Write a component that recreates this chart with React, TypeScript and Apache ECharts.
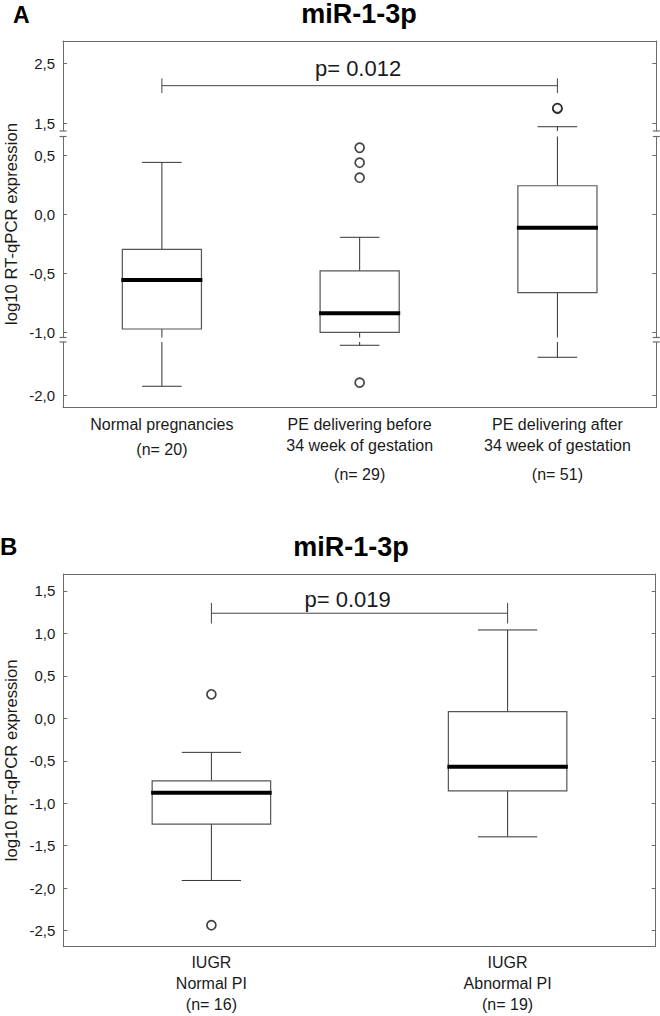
import { useEffect, useRef } from 'react';
import * as echarts from 'echarts';

// ---------- Panel A data ----------
const categoriesA = [
  'Normal pregnancies',
  'PE delivering before\n34 week of gestation',
  'PE delivering after\n34 week of gestation',
];
const countsA = [20, 29, 51];
// box statistics per category
const minA = [-1.843, -1.16, -1.36];
const q1A = [-0.972, -1.0, -0.664];
const medianA = [-0.557, -0.839, -0.114];
const q3A = [-0.297, -0.48, 0.242];
const maxA = [0.44, -0.195, 1.443];
const outlierCatA = [1, 1, 1, 1, 2, 2];
const outlierValA = [0.564, 0.437, 0.31, -1.783, 1.743, 1.752];
const ticksA = [2.5, 1.5, 0.5, 0, -0.5, -1, -2];
const pTextA = 'p= 0.012';
const pFromA = 0;
const pToA = 2;
const pLevelA = 2.127;
const pTextLevelA = 2.42;

// broken axis of panel A: value knots -> linear display knots
const scaleValuesA = [-2.2, -1.105, -1.044, 0.659, 1.372, 2.9];
const scaleDisplayA = [-1.639, -1.082, -1.044, 0.659, 0.706, 1.483];
const breaksA = [
  [-1.105, -1.044],
  [0.659, 1.372],
];
const displayMinA = -1.6356;
const displayMaxA = 1.4686;

// ---------- Panel B data ----------
const categoriesB = ['IUGR\nNormal PI', 'IUGR\nAbnormal PI'];
const countsB = [16, 19];
const minB = [-1.91, -1.396];
const q1B = [-1.246, -0.854];
const medianB = [-0.877, -0.571];
const q3B = [-0.736, 0.078];
const maxB = [-0.401, 1.041];
const outlierCatB = [0, 0];
const outlierValB = [0.283, -2.437];
const ticksB = [1.5, 1, 0.5, 0, -0.5, -1, -1.5, -2, -2.5];
const pTextB = 'p= 0.019';
const pFromB = 0;
const pToB = 1;
const pLevelB = 1.238;
const pTextLevelB = 1.4;
const yMinB = -2.69;
const yMaxB = 1.7;

// ---------- styles ----------
const FONT = '"Liberation Sans", Arial, Helvetica, sans-serif';
const FRAME = '#6b6b6b';
const TEXT = '#1a1a1a';

function piecewise(v: number, xs: number[], ys: number[]): number {
  const n = xs.length - 1;
  if (v <= xs[0]) return ys[0] + ((v - xs[0]) * (ys[1] - ys[0])) / (xs[1] - xs[0]);
  for (let i = 1; i <= n; i++) {
    if (v <= xs[i]) return ys[i - 1] + ((v - xs[i - 1]) * (ys[i] - ys[i - 1])) / (xs[i] - xs[i - 1]);
  }
  return ys[n] + ((v - xs[n]) * (ys[n] - ys[n - 1])) / (xs[n] - xs[n - 1]);
}
const toDispA = (v: number) => piecewise(v, scaleValuesA, scaleDisplayA);
const fromDispA = (d: number) => piecewise(d, scaleDisplayA, scaleValuesA);
const ident = (v: number) => v;
const fmtTick = (v: number) => (Math.round(v * 10) / 10).toFixed(1).replace('.', ',');

function boxRender(tf: (v: number) => number) {
  return (params: any, api: any) => {
    const idx = api.value(0);
    const yMin = api.coord([idx, tf(api.value(1))])[1];
    const yQ1 = api.coord([idx, tf(api.value(2))])[1];
    const yMed = api.coord([idx, tf(api.value(3))])[1];
    const yQ3 = api.coord([idx, tf(api.value(4))])[1];
    const yMax = api.coord([idx, tf(api.value(5))])[1];
    const x = api.coord([idx, tf(api.value(3))])[0];
    const band = api.size([1, 0])[0];
    const bw = band * 0.4;
    const cw = bw / 2;
    const wStyle = { stroke: '#333', lineWidth: 1, fill: null };
    return {
      type: 'group',
      children: [
        { type: 'line', shape: { x1: x, y1: yQ3, x2: x, y2: yMax }, style: wStyle },
        { type: 'line', shape: { x1: x, y1: yQ1, x2: x, y2: yMin }, style: wStyle },
        { type: 'line', shape: { x1: x - cw / 2, y1: yMax, x2: x + cw / 2, y2: yMax }, style: wStyle },
        { type: 'line', shape: { x1: x - cw / 2, y1: yMin, x2: x + cw / 2, y2: yMin }, style: wStyle },
        {
          type: 'rect',
          shape: { x: x - bw / 2, y: yQ3, width: bw, height: yQ1 - yQ3 },
          style: { fill: '#fff', stroke: '#555', lineWidth: 1.2 },
        },
        {
          type: 'line',
          shape: { x1: x - bw / 2 - 1, y1: yMed, x2: x + bw / 2 + 1, y2: yMed },
          style: { stroke: '#000', lineWidth: 4 },
        },
      ],
    };
  };
}

function bracketRender(tf: (v: number) => number, tickHalf: number, text: string, textFrac: number) {
  return (params: any, api: any) => {
    const p1 = api.coord([api.value(0), tf(api.value(2))]);
    const p2 = api.coord([api.value(1), tf(api.value(2))]);
    const ty = api.coord([api.value(0), tf(api.value(3))])[1];
    const tx = p1[0] + (p2[0] - p1[0]) * textFrac;
    const st = { stroke: '#444', lineWidth: 1, fill: null };
    return {
      type: 'group',
      children: [
        { type: 'line', shape: { x1: p1[0], y1: p1[1], x2: p2[0], y2: p2[1] }, style: st },
        { type: 'line', shape: { x1: p1[0], y1: p1[1] - tickHalf, x2: p1[0], y2: p1[1] + tickHalf }, style: st },
        { type: 'line', shape: { x1: p2[0], y1: p2[1] - tickHalf, x2: p2[0], y2: p2[1] + tickHalf }, style: st },
        {
          type: 'text',
          x: tx,
          y: ty,
          style: { text, fontSize: 22, fontFamily: FONT, fill: TEXT, align: 'center', verticalAlign: 'middle' },
        },
      ],
    };
  };
}

function breakRender(tf: (v: number) => number) {
  return (params: any, api: any) => {
    const cs = params.coordSys;
    const yLo = api.coord([0, tf(api.value(0))])[1];
    const yHi = api.coord([0, tf(api.value(1))])[1];
    const st = { stroke: FRAME, lineWidth: 1.2, fill: null };
    const xs = [cs.x, cs.x + cs.width];
    const children: any[] = [
      {
        type: 'rect',
        shape: { x: cs.x - 2, y: yHi, width: cs.width + 4, height: yLo - yHi },
        style: { fill: '#fff', stroke: null },
      },
    ];
    xs.forEach((x) => {
      [yHi, yLo].forEach((y) => {
        children.push({ type: 'line', shape: { x1: x - 3.5, y1: y, x2: x + 3.5, y2: y }, style: st });
      });
    });
    return { type: 'group', children };
  };
}

function catLabel(counts: number[], extraStyle: (lines: number) => string) {
  return (value: string, i: number) => {
    const lines = value.split('\n');
    return lines.map((l) => `{a|${l}}`).join('\n') + `\n{${extraStyle(lines.length)}|(n= ${counts[i]})}`;
  };
}

const richBase = { fontSize: 16, fontFamily: FONT, color: TEXT };

function xAxes(gridIndex: number, data: string[], counts: number[], margin: number, rich: any, styleFor: (n: number) => string) {
  return [
    {
      type: 'category',
      gridIndex,
      data,
      position: 'bottom',
      axisLine: { onZero: false, lineStyle: { color: FRAME, width: 1 } },
      axisTick: { inside: true, alignWithLabel: true, length: 4, lineStyle: { color: FRAME } },
      axisLabel: { interval: 0, margin, formatter: catLabel(counts, styleFor), rich },
      splitLine: { show: false },
    },
    {
      type: 'category',
      gridIndex,
      data,
      position: 'top',
      axisLine: { onZero: false, lineStyle: { color: FRAME, width: 1 } },
      axisTick: { inside: true, alignWithLabel: true, length: 4, lineStyle: { color: FRAME } },
      axisLabel: { show: false },
      splitLine: { show: false },
    },
  ];
}

function yAxes(gridIndex: number, min: number, max: number, tickPos: number[], fmt: (v: number) => string) {
  const common = {
    type: 'value',
    gridIndex,
    min,
    max,
    axisLine: { show: true, onZero: false, lineStyle: { color: FRAME, width: 1 } },
    axisTick: { show: true, inside: true, length: 4, customValues: tickPos, lineStyle: { color: FRAME } },
    splitLine: { show: false },
  };
  return [
    {
      ...common,
      position: 'left',
      axisLabel: { customValues: tickPos, formatter: fmt, fontSize: 15, fontFamily: FONT, color: TEXT, margin: 8 },
    },
    { ...common, position: 'right', axisLabel: { show: false } },
  ];
}

function buildOption() {
  const tickPosA = ticksA.map(toDispA);
  const boxDataA = categoriesA.map((_, i) => [i, minA[i], q1A[i], medianA[i], q3A[i], maxA[i]]);
  const boxDataB = categoriesB.map((_, i) => [i, minB[i], q1B[i], medianB[i], q3B[i], maxB[i]]);
  const outA = outlierCatA.map((c, i) => [c, toDispA(outlierValA[i])]);
  const outB = outlierCatB.map((c, i) => [c, outlierValB[i]]);
  const scatterStyle = { color: '#fff', borderColor: '#111', borderWidth: 1.7 };

  const richA = {
    a: { ...richBase, lineHeight: 21 },
    m: { ...richBase, lineHeight: 29 },
    n: { ...richBase, lineHeight: 36 },
  };
  const richB = {
    a: { ...richBase, lineHeight: 21 },
    n: { ...richBase, lineHeight: 21 },
  };

  return {
    animation: false,
    backgroundColor: '#fff',
    grid: [
      { left: 63, top: 41, width: 593.3, height: 366.3 },
      { left: 63.3, top: 574, width: 592.4, height: 372.7 },
    ],
    xAxis: [
      ...xAxes(0, categoriesA, countsA, 7, richA, (n) => (n > 1 ? 'n' : 'm')),
      ...xAxes(1, categoriesB, countsB, 5, richB, () => 'n'),
    ],
    yAxis: [
      ...yAxes(0, displayMinA, displayMaxA, tickPosA, (v: number) => fmtTick(fromDispA(v))),
      ...yAxes(1, yMinB, yMaxB, ticksB, (v: number) => fmtTick(v)),
    ],
    graphic: [
      {
        type: 'text',
        x: 13,
        y: 15,
        style: { text: 'A', fontSize: 23, fontWeight: 'bold', fontFamily: FONT, fill: '#000', align: 'left', verticalAlign: 'middle' },
      },
      {
        type: 'text',
        x: 359,
        y: 13.5,
        style: { text: 'miR-1-3p', fontSize: 27, fontWeight: 'bold', fontFamily: FONT, fill: '#000', align: 'center', verticalAlign: 'middle' },
      },
      {
        type: 'text',
        x: 0,
        y: 546.5,
        style: { text: 'B', fontSize: 24, fontWeight: 'bold', fontFamily: FONT, fill: '#000', align: 'left', verticalAlign: 'middle' },
      },
      {
        type: 'text',
        x: 351,
        y: 546.5,
        style: { text: 'miR-1-3p', fontSize: 27, fontWeight: 'bold', fontFamily: FONT, fill: '#000', align: 'center', verticalAlign: 'middle' },
      },
      {
        type: 'text',
        x: 11.6,
        y: 224,
        rotation: Math.PI / 2,
        style: { text: 'log10 RT-qPCR expression', fontSize: 16.7, fontFamily: FONT, fill: TEXT, align: 'center', verticalAlign: 'middle' },
      },
      {
        type: 'text',
        x: 11.6,
        y: 760.3,
        rotation: Math.PI / 2,
        style: { text: 'log10 RT-qPCR expression', fontSize: 16.7, fontFamily: FONT, fill: TEXT, align: 'center', verticalAlign: 'middle' },
      },
    ],
    series: [
      {
        type: 'custom',
        name: 'boxA',
        xAxisIndex: 0,
        yAxisIndex: 0,
        renderItem: boxRender(toDispA),
        data: boxDataA,
        z: 2,
      },
      {
        type: 'scatter',
        xAxisIndex: 0,
        yAxisIndex: 0,
        symbol: 'circle',
        symbolSize: 9,
        itemStyle: scatterStyle,
        data: outA,
        z: 3,
      },
      {
        type: 'custom',
        name: 'pA',
        xAxisIndex: 0,
        yAxisIndex: 0,
        renderItem: bracketRender(toDispA, 7.3, pTextA, 0.496),
        data: [[pFromA, pToA, pLevelA, pTextLevelA]],
        z: 3,
      },
      {
        type: 'custom',
        name: 'breaksA',
        xAxisIndex: 0,
        yAxisIndex: 0,
        renderItem: breakRender(toDispA),
        data: breaksA,
        clip: false,
        z: 5,
      },
      {
        type: 'custom',
        name: 'boxB',
        xAxisIndex: 2,
        yAxisIndex: 2,
        renderItem: boxRender(ident),
        data: boxDataB,
        z: 2,
      },
      {
        type: 'scatter',
        xAxisIndex: 2,
        yAxisIndex: 2,
        symbol: 'circle',
        symbolSize: 9,
        itemStyle: scatterStyle,
        data: outB,
        z: 3,
      },
      {
        type: 'custom',
        name: 'pB',
        xAxisIndex: 2,
        yAxisIndex: 2,
        renderItem: bracketRender(ident, 10.3, pTextB, 0.46),
        data: [[pFromB, pToB, pLevelB, pTextLevelB]],
        z: 3,
      },
    ],
  };
}

export default function App() {
  const ref = useRef<HTMLDivElement>(null);
  useEffect(() => {
    if (!ref.current) return;
    const chart = echarts.init(ref.current, null, { renderer: 'svg' });
    chart.setOption(buildOption() as any);
    return () => chart.dispose();
  }, []);
  return (
    <div
      ref={ref}
      style={{ position: 'fixed', left: 0, top: 0, width: 660, height: 1016, background: '#fff' }}
    />
  );
}
